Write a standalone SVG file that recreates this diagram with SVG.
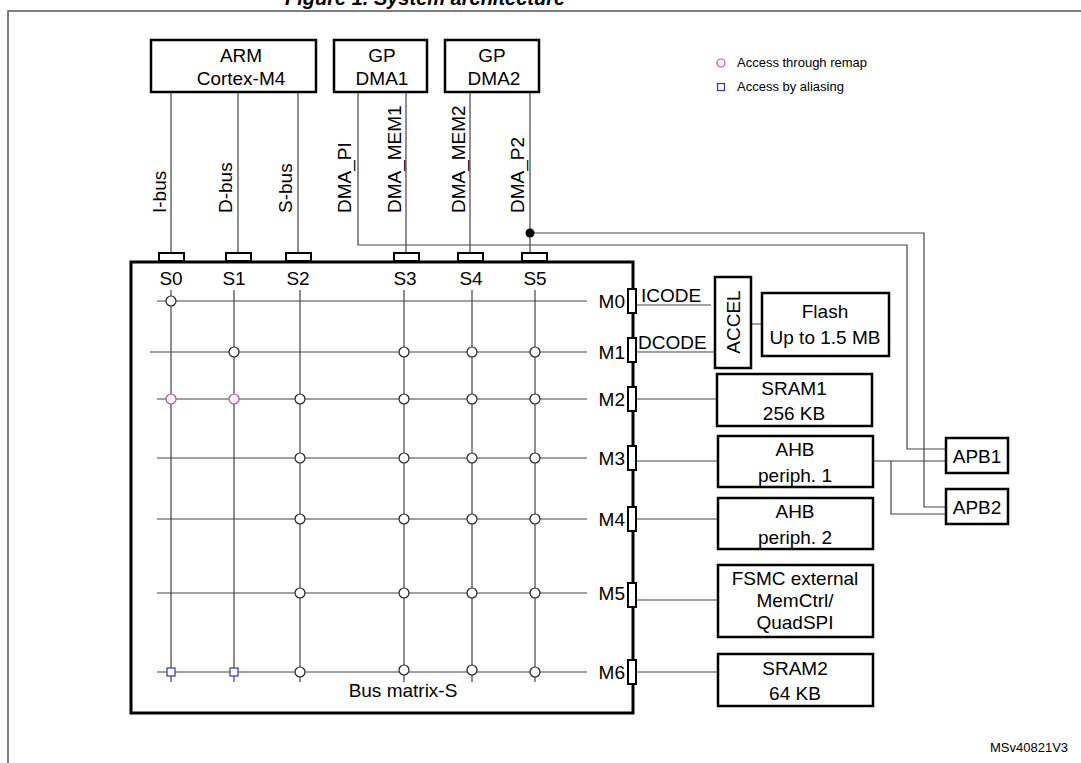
<svg xmlns="http://www.w3.org/2000/svg" width="1081" height="763" viewBox="0 0 1081 763">
<style>
text{font-family:"Liberation Sans",Arial,sans-serif;font-size:19px;fill:#000}
.box{fill:#fff;stroke:#000;stroke-width:2.5}
.ln{fill:none;stroke:#444;stroke-width:1.2}
.c{fill:#fff;stroke:#222;stroke-width:1.2}
.port{fill:#fff;stroke:#000;stroke-width:2}
.m{text-anchor:middle}
</style>
<rect width="1081" height="763" fill="#fff"/>
<text x="285" y="5" style="font-weight:bold;font-style:italic;font-size:20px">Figure 1. System architecture</text>
<rect x="8" y="11" width="1090" height="770" fill="none" stroke="#555" stroke-width="1.5"/>
<g id="legend">
<circle cx="721" cy="63" r="4" fill="none" stroke="#d040c0" stroke-width="1.2"/>
<text x="737" y="67" style="font-size:13px">Access through remap</text>
<rect x="717.5" y="83.5" width="7" height="7" fill="none" stroke="#3030d0" stroke-width="1.2"/>
<text x="737" y="91" style="font-size:13px">Access by aliasing</text>
</g>
<g id="connectors">
<path class="ln" d="M171 92V253M238 92V253M298 92V253M406 92V253M470 92V253M530 92V253"/>
<path class="ln" d="M358 92V245H907V449H946"/>
<path class="ln" d="M530 233H924V507H946"/>
<circle cx="530" cy="233" r="4.5" fill="#000"/>
<path class="ln" d="M637 305H711M637 352H715M751 324H762M637 399H717M637 461H718M637 519H718M637 600H718M637 672H718"/>
<path class="ln" d="M873 461H946M891 461V514H946"/>
</g>
<g id="buslabels">
<text transform="translate(166,213) rotate(-90)">I-bus</text>
<text transform="translate(232,213) rotate(-90)">D-bus</text>
<text transform="translate(292,213) rotate(-90)">S-bus</text>
<text transform="translate(351,213) rotate(-90)">DMA_PI</text>
<text transform="translate(401,213) rotate(-90)">DMA_MEM1</text>
<text transform="translate(465,213) rotate(-90)">DMA_MEM2</text>
<text transform="translate(524,213) rotate(-90)">DMA_P2</text>
</g>
<g id="cortex"><rect class="box" x="151" y="40" width="165" height="52"/><text class="m" x="241" y="62">ARM</text><text class="m" x="241" y="85">Cortex-M4</text></g>
<g id="dma1"><rect class="box" x="334" y="40" width="93" height="52"/><text class="m" x="382" y="62">GP</text><text class="m" x="382" y="85">DMA1</text></g>
<g id="dma2"><rect class="box" x="445" y="40" width="94" height="52"/><text class="m" x="492" y="62">GP</text><text class="m" x="494" y="85">DMA2</text></g>
<g id="matrix">
<rect x="131" y="262" width="502" height="451" fill="#fff" stroke="#000" stroke-width="3"/>
<g class="port">
<rect x="159" y="253" width="25" height="8"/><rect x="226" y="253" width="25" height="8"/><rect x="286" y="253" width="25" height="8"/><rect x="394" y="253" width="25" height="8"/><rect x="458" y="253" width="25" height="8"/><rect x="522" y="253" width="25" height="8"/>
<rect x="628" y="289" width="8" height="24"/><rect x="628" y="338" width="8" height="24"/><rect x="628" y="387" width="8" height="24"/><rect x="628" y="446" width="8" height="24"/><rect x="628" y="507" width="8" height="24"/><rect x="628" y="583" width="8" height="24"/><rect x="628" y="660" width="8" height="24"/>
</g>
<g class="m"><text x="171" y="285">S0</text><text x="234" y="285">S1</text><text x="298" y="285">S2</text><text x="405" y="285">S3</text><text x="471" y="285">S4</text><text x="535" y="285">S5</text></g>
<g style="text-anchor:end"><text x="625" y="308">M0</text><text x="625" y="359">M1</text><text x="625" y="406">M2</text><text x="625" y="465">M3</text><text x="625" y="526">M4</text><text x="625" y="600">M5</text><text x="625" y="679">M6</text></g>
<path class="ln" d="M171 290V682M234 290V682M300 290V682M404 290V682M472 290V682M535 290V682"/>
<path class="ln" d="M157 301H587M150 352H587M157 399H587M157 458H587M157 519H587M157 593H587M157 672H587"/>
<g class="c">
<circle cx="171" cy="301" r="5"/>
<circle cx="234" cy="352" r="5"/><circle cx="404" cy="352" r="5"/><circle cx="472" cy="352" r="5"/><circle cx="535" cy="352" r="5"/>
<circle cx="300" cy="399" r="5"/><circle cx="404" cy="399" r="5"/><circle cx="472" cy="399" r="5"/><circle cx="535" cy="399" r="5"/>
<circle cx="300" cy="458" r="5"/><circle cx="404" cy="458" r="5"/><circle cx="472" cy="458" r="5"/><circle cx="535" cy="458" r="5"/>
<circle cx="300" cy="519" r="5"/><circle cx="404" cy="519" r="5"/><circle cx="472" cy="519" r="5"/><circle cx="535" cy="519" r="5"/>
<circle cx="300" cy="593" r="5"/><circle cx="404" cy="593" r="5"/><circle cx="472" cy="593" r="5"/><circle cx="535" cy="593" r="5"/>
<circle cx="300" cy="672" r="5"/><circle cx="404" cy="670" r="5"/><circle cx="472" cy="670" r="5"/><circle cx="535" cy="672" r="5"/>
</g>
<circle cx="171" cy="399" r="5" fill="#fff" stroke="#d040c0" stroke-width="1.2"/>
<circle cx="234" cy="399" r="5" fill="#fff" stroke="#d040c0" stroke-width="1.2"/>
<rect x="167" y="668" width="8" height="8" fill="#fff" stroke="#3030d0" stroke-width="1.2"/>
<rect x="230" y="668" width="8" height="8" fill="#fff" stroke="#3030d0" stroke-width="1.2"/>
<text class="m" x="403" y="697">Bus matrix-S</text>
</g>
<text x="641" y="302">ICODE</text>
<text x="638" y="349">DCODE</text>
<g id="accel"><rect class="box" x="715" y="277" width="36" height="91"/><text class="m" transform="translate(740,322) rotate(-90)">ACCEL</text></g>
<g id="flash"><rect class="box" x="762" y="293" width="127" height="63"/><text class="m" x="825" y="318">Flash</text><text class="m" x="825" y="344">Up to 1.5 MB</text></g>
<g id="sram1"><rect class="box" x="717" y="374" width="155" height="52"/><text class="m" x="794" y="395">SRAM1</text><text class="m" x="794" y="420">256 KB</text></g>
<g id="ahb1"><rect class="box" x="718" y="436" width="155" height="51"/><text class="m" x="795" y="456">AHB</text><text class="m" x="795" y="482">periph. 1</text></g>
<g id="ahb2"><rect class="box" x="718" y="498" width="155" height="51"/><text class="m" x="795" y="518">AHB</text><text class="m" x="795" y="544">periph. 2</text></g>
<g id="fsmc"><rect class="box" x="718" y="565" width="155" height="72"/><text class="m" x="795" y="585">FSMC external</text><text class="m" x="795" y="607">MemCtrl/</text><text class="m" x="795" y="629">QuadSPI</text></g>
<g id="sram2"><rect class="box" x="718" y="654" width="155" height="52"/><text class="m" x="795" y="675">SRAM2</text><text class="m" x="795" y="700">64 KB</text></g>
<g id="apb1"><rect class="box" x="946" y="438" width="62" height="35"/><text class="m" x="977" y="463">APB1</text></g>
<g id="apb2"><rect class="box" x="946" y="489" width="62" height="35"/><text class="m" x="977" y="514">APB2</text></g>
<text x="990" y="752" style="font-size:13px">MSv40821V3</text>
</svg>
